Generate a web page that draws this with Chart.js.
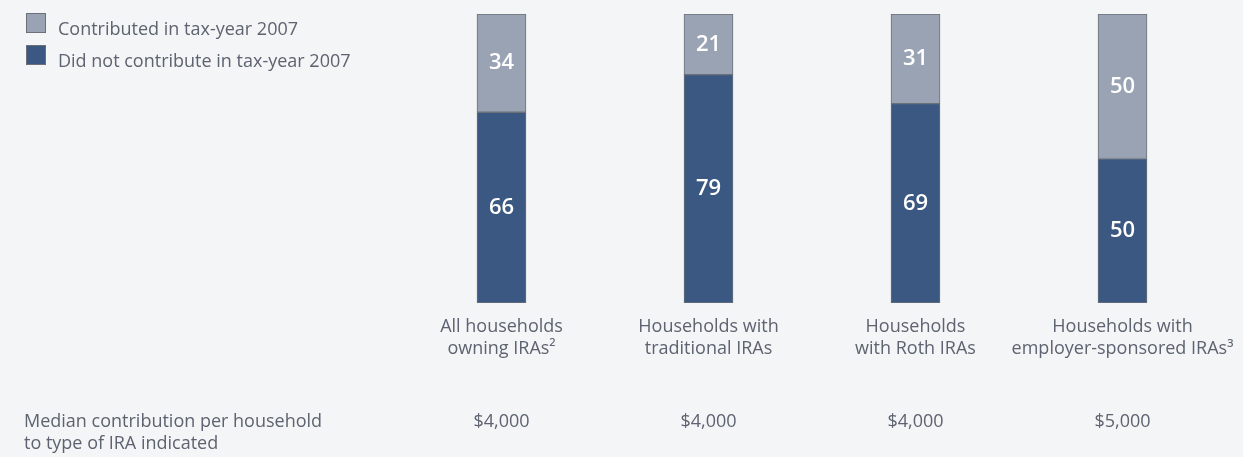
<!DOCTYPE html>
<html>
<head>
<meta charset="utf-8">
<script src="https://cdn.jsdelivr.net/npm/chart.js@4"></script>
<style>
  html, body { margin: 0; padding: 0; background: #f4f5f7; }
  #wrap { position: relative; width: 1243px; height: 457px; }
  #legend { position: absolute; left: 26px; top: 12px; font-family: "Open Sans", sans-serif; font-size: 18px; color: #5d6370; }
  #legend div { display: flex; align-items: center; height: 32px; }
  #legend span.box { display: inline-block; width: 20px; height: 20px; border: 1px solid #6b7079; margin-right: 12px; box-sizing: border-box; position: relative; top: -5px; }
</style>
</head>
<body>
<div id="wrap">
  <canvas id="chart" width="1243" height="457"></canvas>
  <div id="legend"></div>
</div>
<script>
const categories = [
  ["All households", "owning IRAs²"],
  ["Households with", "traditional IRAs"],
  ["Households", "with Roth IRAs"],
  ["Households with", "employer-sponsored IRAs³"]
];
const didNotContribute = [66, 79, 69, 50];
const contributed = [34, 21, 31, 50];
const medians = ["$4,000", "$4,000", "$4,000", "$5,000"];
const medianLabel = ["Median contribution per household", "to type of IRA indicated"];

const textColor = "#5d6370";
const darkBlue = "#3a5882";
const lightGray = "#9aa3b4";

// legend (html)
const legendEl = document.getElementById("legend");
[["Contributed in tax-year 2007", lightGray], ["Did not contribute in tax-year 2007", darkBlue]].forEach(([t, c]) => {
  const row = document.createElement("div");
  row.innerHTML = `<span class="box" style="background:${c}"></span>${t}`;
  legendEl.appendChild(row);
});

// white numbers inside segments
const segmentLabels = {
  id: "segmentLabels",
  afterDatasetsDraw(chart) {
    const ctx = chart.ctx;
    ctx.save();
    ctx.fillStyle = "#ffffff";
    ctx.font = "600 22px 'Open Sans', sans-serif";
    ctx.textAlign = "center";
    ctx.textBaseline = "middle";
    chart.data.datasets.forEach((ds, i) => {
      chart.getDatasetMeta(i).data.forEach((bar, j) => {
        const mid = (bar.y + bar.base) / 2;
        ctx.fillText(String(ds.data[j]), bar.x, mid);
      });
    });
    ctx.restore();
  }
};

// median contribution row under the chart
const medianRow = {
  id: "medianRow",
  afterDraw(chart) {
    const ctx = chart.ctx;
    const x = chart.scales.x;
    ctx.save();
    ctx.fillStyle = textColor;
    ctx.font = "18px 'Open Sans', sans-serif";
    ctx.textBaseline = "middle";
    ctx.textAlign = "left";
    medianLabel.forEach((line, k) => ctx.fillText(line, 24, 422 + k * 22));
    ctx.textAlign = "center";
    medians.forEach((m, j) => ctx.fillText(m, x.getPixelForValue(j), 422));
    ctx.restore();
  }
};

new Chart(document.getElementById("chart"), {
  type: "bar",
  data: {
    labels: categories,
    datasets: [
      {
        label: "Did not contribute in tax-year 2007",
        data: didNotContribute,
        backgroundColor: darkBlue,
        borderColor: "#6b7079",
        borderWidth: 1,
        borderSkipped: false,
        barThickness: 49
      },
      {
        label: "Contributed in tax-year 2007",
        data: contributed,
        backgroundColor: lightGray,
        borderColor: "#6b7079",
        borderWidth: 1,
        borderSkipped: false,
        barThickness: 49
      }
    ]
  },
  options: {
    responsive: false,
    animation: false,
    layout: { padding: { left: 398, right: 17, top: 14, bottom: 84 } },
    plugins: { legend: { display: false }, tooltip: { enabled: false } },
    scales: {
      x: {
        stacked: true,
        grid: { display: false },
        border: { display: false },
        afterFit: (s) => { s.height = 70; },
        ticks: {
          color: textColor,
          padding: 5,
          font: { family: "'Open Sans', sans-serif", size: 18, lineHeight: 1.22 },
          maxRotation: 0,
          autoSkip: false
        }
      },
      y: {
        stacked: true,
        display: false,
        min: 0,
        max: 100
      }
    }
  },
  plugins: [segmentLabels, medianRow]
});
</script>
</body>
</html>
